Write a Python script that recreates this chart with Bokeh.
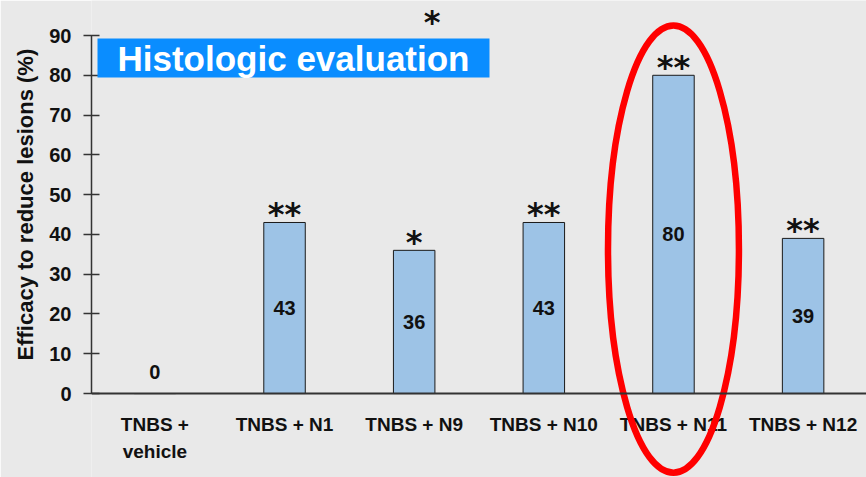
from bokeh.plotting import figure
from bokeh.models import FactorRange, Range1d, FixedTicker, Span, Label, ColumnDataSource, Title
from bokeh.core.properties import value
from bokeh.embed import file_html
from bokeh.resources import INLINE

# ---- data ----
categories = ["TNBS + vehicle", "TNBS + N1", "TNBS + N9", "TNBS + N10", "TNBS + N11", "TNBS + N12"]
category_labels = ["TNBS +\nvehicle", "TNBS + N1", "TNBS + N9", "TNBS + N10", "TNBS + N11", "TNBS + N12"]
efficacy = [0, 43, 36, 43, 80, 39]
value_labels = ["0", "43", "36", "43", "80", "39"]
significance = ["", "**", "*", "**", "**", "**"]
y_ticks = [0, 10, 20, 30, 40, 50, 60, 70, 80, 90]

BG = "#E9E9E9"
FONT = value("Liberation Sans")
STAR_FONT = value("DejaVu Sans")

p = figure(width=866, height=477,
           x_range=FactorRange(factors=categories, range_padding=-0.011, range_padding_units="absolute"),
           y_range=Range1d(-21.1, 98.8),
           output_backend="svg", toolbar_location=None,
           min_border_left=91, min_border_right=0, min_border_top=0, min_border_bottom=0)
p.background_fill_color = BG
p.border_fill_color = BG
p.outline_line_color = None
p.xgrid.visible = False
p.ygrid.visible = False
p.xaxis.visible = False

ax = p.yaxis[0]
ax.bounds = (0, 90)
ax.ticker = FixedTicker(ticks=y_ticks)
ax.axis_line_color = "#333333"
ax.axis_line_width = 1.5
ax.major_tick_line_color = "#333333"
ax.major_tick_line_width = 1.5
ax.major_tick_in = 8
ax.major_tick_out = 8
ax.minor_tick_line_color = None
ax.major_label_standoff = 12
ax.major_label_text_font = "Liberation Sans"
ax.major_label_text_font_style = "bold"
ax.major_label_text_font_size = "20px"
ax.major_label_text_color = "#111111"

# y axis title (as a side title so it can be shifted along the axis)
p.add_layout(Title(text="Efficacy to reduce lesions (%)", align="left", offset=117,
                   vertical_align="bottom", standoff=18, text_font="Liberation Sans",
                   text_font_style="bold", text_font_size="22px", text_color="#111111"), "left")

# x-axis baseline
p.add_layout(Span(location=0, dimension="width", line_color="#333333", line_width=2))

src = ColumnDataSource(dict(cat=categories, lab=category_labels, val=efficacy,
                            vlab=value_labels, star=significance,
                            mid=[v / 2 if v > 0 else 5.3 for v in efficacy],
                            base=[0] * len(categories)))

p.vbar(x="cat", top="val", width=0.32, source=src, fill_color="#9DC3E6",
       line_color="#1a1a1a", line_width=1)

p.text(x="cat", y="mid", text="vlab", source=src, text_align="center", text_baseline="middle",
       text_font=FONT, text_font_style="bold", text_font_size="20px", text_color="#111111")

p.text(x="cat", y="val", text="star", source=src, text_align="center", text_baseline="alphabetic",
       y_offset=-8, text_font=STAR_FONT, text_font_style="bold", text_font_size="32px",
       text_color="#111111")

p.text(x="cat", y="base", text="lab", source=src, text_align="center", text_baseline="top",
       y_offset=20, text_line_height=1.3, text_font=FONT, text_font_style="bold",
       text_font_size="19px", text_color="#111111")

# stray star near the top
p.text(x=["TNBS + N9"], y=[94.2], text=["*"], x_offset=18, y_offset=3, text_align="center",
       text_baseline="alphabetic", text_font=STAR_FONT, text_font_style="bold",
       text_font_size="32px", text_color="#111111")

# highlight ellipse around N11
p.ellipse(x=["TNBS + N11"], y=[36.3], width=1.01, height=112.4, fill_color=None,
          line_color="#FF0000", line_width=6.5)

# title box
p.add_layout(Label(x=6, y=439, x_units="screen", y_units="screen",
                   text="Histologic evaluation", text_align="left", text_baseline="top",
                   text_font="Liberation Sans", text_font_style="bold", text_font_size="35px",
                   text_color="white", background_fill_color="#0A8DFF", padding=(20, 0)))

open("out.html", "w").write(file_html(p, INLINE))
